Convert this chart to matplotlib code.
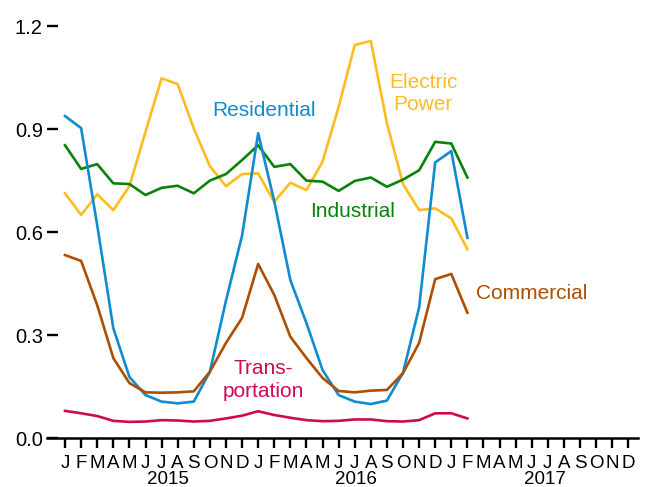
#Monthly natural gas style chart, five sectors, Jan 2015 - Feb 2017.

import numpy as np
import matplotlib
matplotlib.use("Agg")
import matplotlib.pyplot as plt

plt.rcParams['font.family'] = ['Liberation Sans', 'DejaVu Sans']

#values, one per month starting Jan 2015
residential = [0.938, 0.903, 0.62, 0.32, 0.178, 0.125, 0.106, 0.101, 0.106, 0.193,
               0.40, 0.59, 0.888, 0.69, 0.46, 0.335, 0.198, 0.125, 0.106, 0.099,
               0.109, 0.19, 0.38, 0.803, 0.836, 0.583]
commercial = [0.533, 0.516, 0.387, 0.233, 0.16, 0.133, 0.132, 0.133, 0.136, 0.193,
              0.277, 0.35, 0.507, 0.417, 0.295, 0.233, 0.175, 0.137, 0.133, 0.138,
              0.14, 0.189, 0.277, 0.463, 0.478, 0.365]
transportation = [0.079, 0.072, 0.064, 0.05, 0.047, 0.048, 0.052, 0.051, 0.048, 0.05,
                  0.057, 0.065, 0.078, 0.067, 0.059, 0.052, 0.049, 0.05, 0.054, 0.054,
                  0.049, 0.048, 0.052, 0.072, 0.072, 0.057]
industrial = [0.853, 0.784, 0.798, 0.742, 0.74, 0.708, 0.729, 0.735, 0.713, 0.75,
              0.769, 0.81, 0.853, 0.79, 0.798, 0.75, 0.747, 0.72, 0.749, 0.759,
              0.732, 0.753, 0.78, 0.863, 0.858, 0.759]
electric = [0.713, 0.65, 0.71, 0.664, 0.734, 0.892, 1.048, 1.031, 0.902, 0.792,
            0.734, 0.769, 0.771, 0.688, 0.744, 0.722, 0.805, 0.965, 1.145, 1.157,
            0.917, 0.74, 0.664, 0.669, 0.64, 0.55]

month_letters = ["J", "F", "M", "A", "M", "J", "J", "A", "S", "O", "N", "D"] * 3
years = ["2015", "2016", "2017"]
year_pos = [6.4, 18.1, 29.8]
y_ticks = [0.0, 0.3, 0.6, 0.9, 1.2]

#colours
blue = "#118bcf"
yellow = "#ffbb22"
green = "#0a820a"
brown = "#ad4e00"
pink = "#cc0a55"

fig = plt.figure(figsize=(6.5, 4.87), dpi=100)
ax = fig.add_axes([47 / 650, 49 / 487, 591 / 650, 429 / 487])

months = np.arange(len(residential))
lw = 1.9
ax.plot(months, electric, color=yellow, lw=lw)
ax.plot(months, industrial, color=green, lw=lw)
ax.plot(months, residential, color=blue, lw=lw)
ax.plot(months, commercial, color=brown, lw=lw)
ax.plot(months, transportation, color=pink, lw=lw)

ax.set_xlim(-1.12, 35.6)
ax.set_ylim(0, 1.25)

for side in ["top", "right", "left"]:
    ax.spines[side].set_visible(False)
ax.spines["bottom"].set_linewidth(1.8)

ax.set_yticks(y_ticks)
ax.set_yticklabels(["%.1f" % v for v in y_ticks])
ax.tick_params(axis="y", direction="in", length=8, width=1.7, pad=3, labelsize=14.5)

ax.set_xticks(np.arange(36))
ax.set_xticklabels(month_letters)
ax.tick_params(axis="x", direction="out", length=7, width=1.7, pad=5.5, labelsize=13.5)

#year labels under the month letters
for yr, pos in zip(years, year_pos):
    ax.text(pos, -0.097, yr, transform=ax.get_xaxis_transform(), ha="center",
            va="center", fontsize=13.5)

#series labels
fs = 15
ax.text(12.37, 0.954, "Residential", color=blue, fontsize=fs, ha="center", va="center")
ax.text(22.25, 1.003, "Electric\nPower", color=yellow, fontsize=fs, ha="center",
        va="center", linespacing=1.2)
ax.text(17.84, 0.661, "Industrial", color=green, fontsize=fs, ha="center", va="center")
ax.text(29.0, 0.42, "Commercial", color=brown, fontsize=fs, ha="center", va="center")
ax.text(12.3, 0.168, "Trans-\nportation", color=pink, fontsize=fs, ha="center",
        va="center", linespacing=1.25)

fig.savefig("out.png", dpi=100)
